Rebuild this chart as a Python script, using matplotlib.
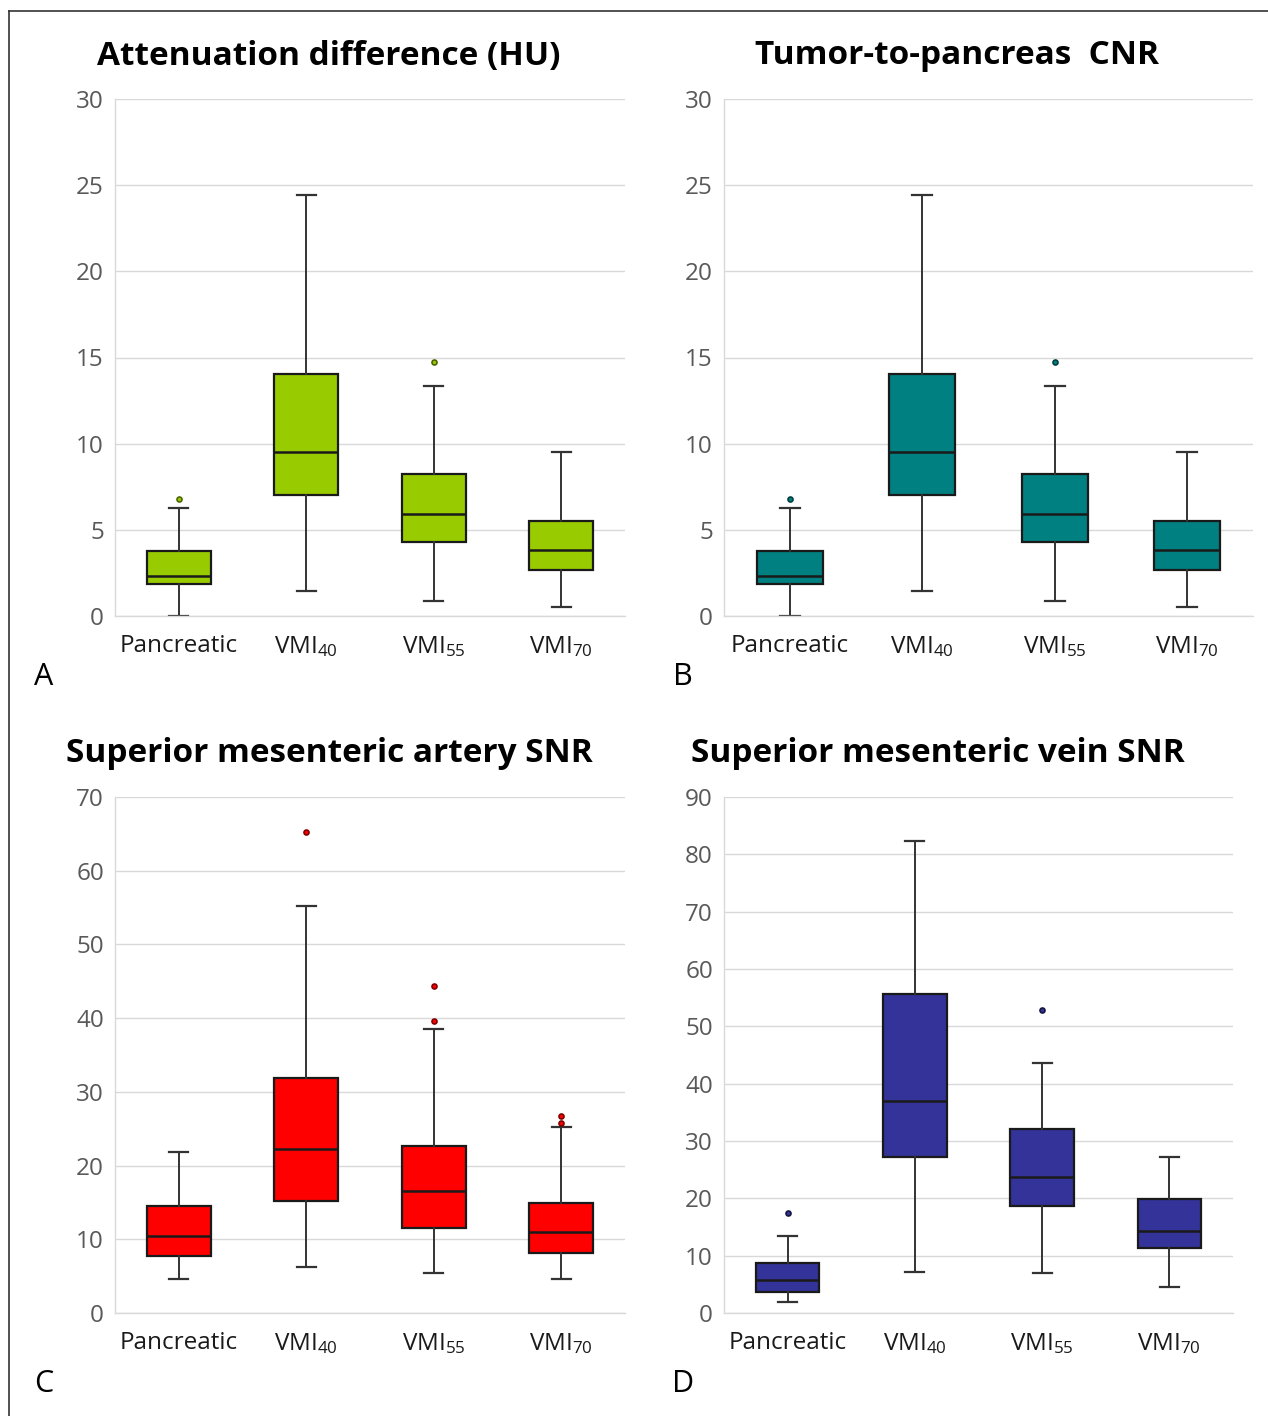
import matplotlib
matplotlib.use("Agg")
import matplotlib.pyplot as plt
from matplotlib.lines import Line2D

plt.rcParams['font.family'] = ['Open Sans', 'DejaVu Sans']
plt.rcParams['mathtext.fontset'] = 'custom'
plt.rcParams['mathtext.rm'] = 'Open Sans'
plt.rcParams['mathtext.it'] = 'Open Sans'

# categories
groups = ["Pancreatic", r"VMI$_{40}$", r"VMI$_{55}$", r"VMI$_{70}$"]

# panel A/B (same values in the source figure)
att_lo = [0.0, 1.47, 0.85, 0.5]
att_q1 = [1.86, 7.04, 4.29, 2.67]
att_med = [2.35, 9.52, 5.92, 3.83]
att_q3 = [3.77, 14.05, 8.26, 5.53]
att_hi = [6.27, 24.43, 13.37, 9.52]
att_out = [[6.77], [], [14.74], []]

# panel C
sma_lo = [4.57, 6.2, 5.36, 4.57]
sma_q1 = [7.69, 15.15, 11.47, 8.16]
sma_med = [10.49, 22.19, 16.55, 11.05]
sma_q3 = [14.45, 31.93, 22.66, 14.97]
sma_hi = [21.9, 55.15, 38.46, 25.17]
sma_out = [[], [65.2], [39.6, 44.4], [25.8, 26.7]]

# panel D
smv_lo = [2.0, 7.17, 7.04, 4.55]
smv_q1 = [3.74, 27.29, 18.63, 11.34]
smv_med = [5.73, 36.95, 23.68, 14.27]
smv_q3 = [8.66, 55.64, 32.15, 19.81]
smv_hi = [13.4, 82.24, 43.68, 27.29]
smv_out = [[17.5], [], [52.9], []]

panels = [
    # title, letter, stats, colour, outlier edge, ymax, ystep, axes rect, title pos, letter pos
    ("Attenuation difference (HU)", "A",
     (att_lo, att_q1, att_med, att_q3, att_hi, att_out), "#99CC00", "#4d6600",
     30, 5, [115, 99, 625, 616], (329, 56), (44, 677)),
    ("Tumor-to-pancreas  CNR", "B",
     (att_lo, att_q1, att_med, att_q3, att_hi, att_out), "#008080", "#003f3f",
     30, 5, [724, 99, 1253, 616], (957, 56), (683, 677)),
    ("Superior mesenteric artery SNR", "C",
     (sma_lo, sma_q1, sma_med, sma_q3, sma_hi, sma_out), "#FF0000", "#800000",
     70, 10, [115, 797, 625, 1313], (329, 753), (44, 1384)),
    ("Superior mesenteric vein SNR", "D",
     (smv_lo, smv_q1, smv_med, smv_q3, smv_hi, smv_out), "#333399", "#15153f",
     90, 10, [724, 797, 1233, 1313], (938, 753), (683, 1384)),
]

W, H = 1268, 1416
fig = plt.figure(figsize=(W / 100, H / 100), dpi=100)

for title, letter, st, col, ecol, ymax, ystep, (x0, y0, x1, y1), tpos, lpos in panels:
    ax = fig.add_axes([x0 / W, 1 - y1 / H, (x1 - x0) / W, (y1 - y0) / H])
    lo, q1, med, q3, hi, out = st
    stats = []
    for i in range(len(groups)):
        stats.append(dict(whislo=lo[i], q1=q1[i], med=med[i], q3=q3[i],
                          whishi=hi[i], fliers=out[i], label=groups[i]))
    ax.bxp(stats, positions=range(len(groups)), widths=0.5, patch_artist=True,
           showfliers=True,
           boxprops=dict(facecolor=col, edgecolor="#1a1a1a", linewidth=1.6),
           medianprops=dict(color="#1a1a1a", linewidth=1.8),
           whiskerprops=dict(color="#333333", linewidth=1.4),
           capprops=dict(color="#333333", linewidth=1.6),
           capwidths=0.15,
           flierprops=dict(marker="o", markersize=3.6, markerfacecolor=col,
                           markeredgecolor=ecol, markeredgewidth=1.2))
    ax.set_xlim(-0.5, len(groups) - 0.5)
    ax.set_ylim(0, ymax)
    ax.set_yticks(range(0, ymax + 1, ystep))
    ax.grid(True, axis="y", color="#d9d9d9", linewidth=1.0)
    ax.set_axisbelow(True)
    for s in ["top", "right"]:
        ax.spines[s].set_visible(False)
    for s in ["left", "bottom"]:
        ax.spines[s].set_color("#d9d9d9")
        ax.spines[s].set_linewidth(1.0)
    ax.tick_params(axis="both", length=0)
    ax.tick_params(axis="y", labelsize=17.5, labelcolor="#595959", pad=8)
    ax.tick_params(axis="x", labelsize=17.5, labelcolor="#1a1a1a", pad=13)
    fig.text(tpos[0] / W, 1 - tpos[1] / H, title, ha="center", va="center",
             fontsize=24, fontweight="bold", color="black")
    fig.text(lpos[0] / W, 1 - lpos[1] / H, letter, ha="center", va="center",
             fontsize=22, color="black")

# frame lines of the original figure (top and left only)
fig.add_artist(Line2D([9 / W, 1], [1 - 11 / H, 1 - 11 / H], color="#333333", linewidth=1.2))
fig.add_artist(Line2D([9 / W, 9 / W], [0, 1 - 11 / H], color="#333333", linewidth=1.2))

fig.savefig("out.png", dpi=100)
